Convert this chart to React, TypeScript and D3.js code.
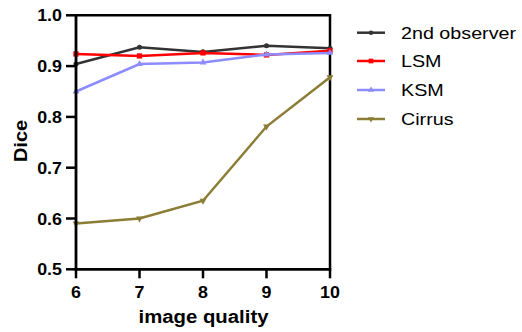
import React from "react";
import * as d3 from "d3";

const qualities = [6, 7, 8, 9, 10];
const observer2 = [0.904, 0.937, 0.928, 0.940, 0.935];
const lsm = [0.924, 0.920, 0.926, 0.922, 0.930];
const ksm = [0.850, 0.904, 0.907, 0.923, 0.926];
const cirrus = [0.590, 0.600, 0.635, 0.781, 0.878];
const yTicks = [0.5, 0.6, 0.7, 0.8, 0.9, 1.0];
const seriesNames = ["2nd observer", "LSM", "KSM", "Cirrus"];

const colors = ["#333333", "#ff0000", "#8c8cff", "#8b7d35"];
const symbols = [d3.symbolCircle, d3.symbolSquare, d3.symbolTriangle, d3.symbolTriangle];

export default function App() {
  const W = 522, H = 332;
  const x = d3.scaleLinear().domain([6, 10]).range([76, 330]);
  const y = d3.scaleLinear().domain([0.5, 1.0]).range([269.3, 15.3]);
  const all = [observer2, lsm, ksm, cirrus];
  const line = d3.line<number>().x((_, i) => x(qualities[i])).y((d) => y(d));
  const font = "Arial, 'Liberation Sans', Helvetica, sans-serif";
  const legendY = [32.7, 61, 90, 119];

  return (
    <svg width={W} height={H} style={{ position: "absolute", left: 0, top: 0 }} fontFamily={font}>
      <rect width={W} height={H} fill="#fff" />
      {/* frame */}
      <path d={`M${x(6)},${y(1)} H${x(10)} V${y(0.5)}`} fill="none" stroke="#000" strokeWidth={2.5} />
      {/* series */}
      {all.map((vals, si) => (
        <g key={si}>
          <path d={line(vals) || ""} fill="none" stroke={colors[si]} strokeWidth={2.5} />
          {vals.map((v, i) => (
            <path
              key={i}
              d={d3.symbol().type(symbols[si]).size(si === 1 ? 28 : 20)() || ""}
              transform={`translate(${x(qualities[i])},${y(v)})${si === 3 ? " rotate(180)" : ""}`}
              fill={colors[si]}
            />
          ))}
        </g>
      ))}
      {/* y axis */}
      <line x1={x(6)} x2={x(6)} y1={y(1) - 1.25} y2={y(0.5) + 1.25} stroke="#000" strokeWidth={2.8} />
      {yTicks.map((t) => (
        <g key={t}>
          <line x1={66} x2={x(6)} y1={y(t)} y2={y(t)} stroke="#000" strokeWidth={2.5} />
          <g transform={`translate(62,${y(t)}) scale(1.05,1)`}>
            <text x={0} y={0} dy="0.36em" textAnchor="end" fontSize={17} fontWeight="bold" fill="#000">
              {t.toFixed(1)}
            </text>
          </g>
        </g>
      ))}
      {/* x axis */}
      <line x1={x(6) - 1.4} x2={x(10) + 1.25} y1={y(0.5)} y2={y(0.5)} stroke="#000" strokeWidth={2.8} />
      {qualities.map((q) => (
        <g key={q}>
          <line x1={x(q)} x2={x(q)} y1={y(0.5)} y2={y(0.5) + 9} stroke="#000" strokeWidth={2.5} />
          <g transform={`translate(${x(q)},298.3) scale(1.05,1)`}>
            <text x={0} y={0} textAnchor="middle" fontSize={17} fontWeight="bold" fill="#000">
              {q}
            </text>
          </g>
        </g>
      ))}
      <g transform="translate(203.5,323) scale(1.1,1)">
        <text x={0} y={0} textAnchor="middle" fontSize={18.5} fontWeight="bold" fill="#000">
          image quality
        </text>
      </g>
      <g transform="translate(27,141) rotate(-90) scale(1.08,1)">
        <text x={0} y={0} textAnchor="middle" fontSize={18.5} fontWeight="bold" fill="#000">
          Dice
        </text>
      </g>
      {/* legend */}
      {seriesNames.map((n, si) => (
        <g key={n}>
          <line x1={357} x2={385} y1={legendY[si]} y2={legendY[si]} stroke={colors[si]} strokeWidth={2.5} />
          <path
            d={d3.symbol().type(symbols[si]).size(si === 1 ? 22 : 16)() || ""}
            transform={`translate(371,${legendY[si]})${si === 3 ? " rotate(180)" : ""}`}
            fill={colors[si]}
          />
          <g transform={`translate(401,${legendY[si]}) scale(1.16,1)`}>
            <text x={0} y={0} dy="0.36em" fontSize={17} fill="#000">
              {n}
            </text>
          </g>
        </g>
      ))}
    </svg>
  );
}
